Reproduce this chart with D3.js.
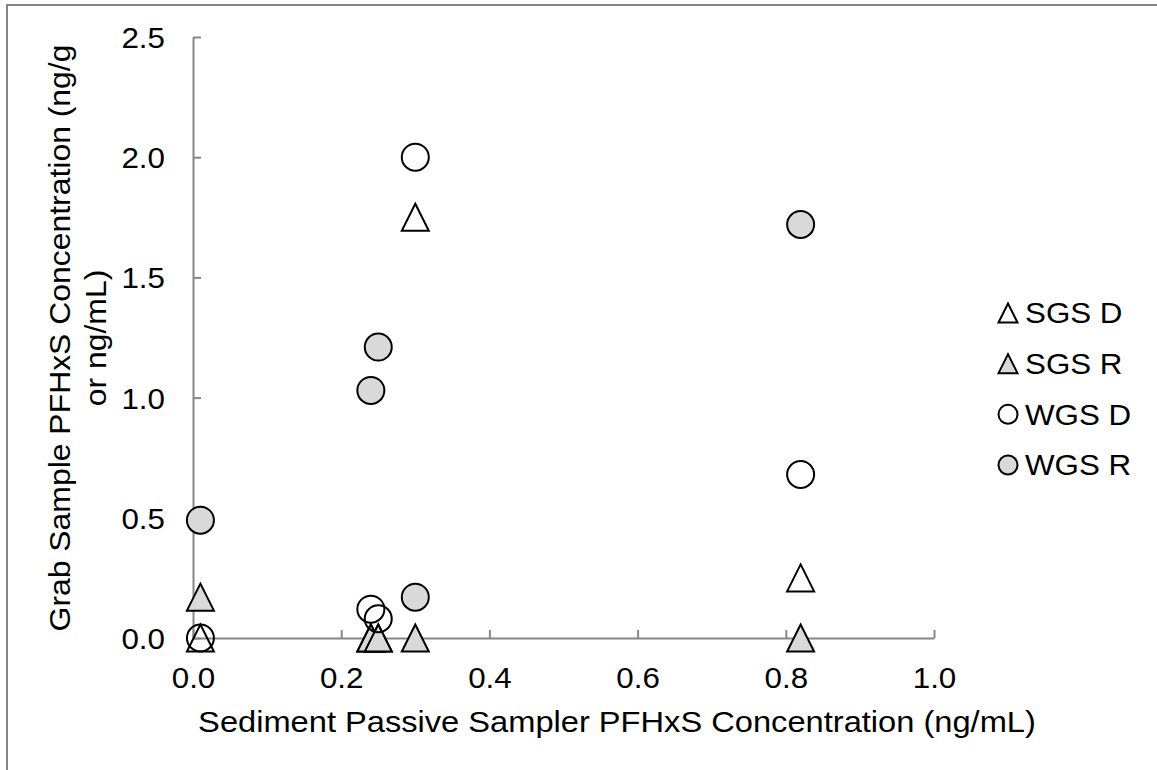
<!DOCTYPE html>
<html>
<head>
<meta charset="utf-8">
<script src="https://cdn.jsdelivr.net/npm/d3@7"></script>
<style>
  html, body { margin: 0; padding: 0; background: #fff; }
  svg text { font-family: "Liberation Sans", Arial, sans-serif; fill: #000; }
</style>
</head>
<body>
<svg id="chart" width="1157" height="770"></svg>
<script>
// ---- data ----
const xTicks = [0.0, 0.2, 0.4, 0.6, 0.8, 1.0];
const yTicks = [0.0, 0.5, 1.0, 1.5, 2.0, 2.5];
const seriesNames = ["SGS D", "SGS R", "WGS D", "WGS R"];
const sgsDx = [0.01, 0.24, 0.25, 0.30, 0.82];
const sgsDy = [0.00, 0.00, 0.00, 1.75, 0.25];
const sgsRx = [0.01, 0.24, 0.25, 0.30, 0.82];
const sgsRy = [0.17, 0.00, 0.00, 0.00, 0.00];
const wgsDx = [0.01, 0.24, 0.25, 0.30, 0.82];
const wgsDy = [0.00, 0.12, 0.08, 2.00, 0.68];
const wgsRx = [0.01, 0.24, 0.25, 0.30, 0.82];
const wgsRy = [0.49, 1.03, 1.21, 0.17, 1.72];
const xTitle = "Sediment Passive Sampler PFHxS Concentration (ng/mL)";
const yTitleLines = ["Grab Sample PFHxS Concentration (ng/g", "or ng/mL)"];

const series = [
  {name: seriesNames[0], xs: sgsDx, ys: sgsDy, shape: "triangle", fill: "none"},
  {name: seriesNames[1], xs: sgsRx, ys: sgsRy, shape: "triangle", fill: "#d9d9d9"},
  {name: seriesNames[2], xs: wgsDx, ys: wgsDy, shape: "circle", fill: "none"},
  {name: seriesNames[3], xs: wgsRx, ys: wgsRy, shape: "circle", fill: "#d9d9d9"}
];

const svg = d3.select("#chart");
const axisColor = "#868686";
const fontSize = 29;

function stretchText(sel, k) {
  k = k || 1.08;
  sel.each(function() {
    const w = this.getComputedTextLength();
    this.setAttribute("textLength", w * k);
    this.setAttribute("lengthAdjust", "spacingAndGlyphs");
  });
}

// outer frame (cropped at right/bottom)
svg.append("rect").attr("x", 7).attr("y", 5).attr("width", 1300).attr("height", 900)
  .attr("fill", "none").attr("stroke", axisColor).attr("stroke-width", 2);

const x = d3.scaleLinear().domain([0, 1]).range([193, 934]);
const y = d3.scaleLinear().domain([0, 2.5]).range([638, 37]);

// axes
const xAxis = d3.axisBottom(x).tickValues(xTicks).tickSizeInner(-8).tickSizeOuter(0).tickFormat(d3.format(".1f"));
const gx = svg.append("g").attr("transform", `translate(0,${y(0)})`).call(xAxis);
gx.select(".domain").attr("stroke", axisColor).attr("stroke-width", 2);
gx.selectAll(".tick line").attr("stroke", axisColor).attr("stroke-width", 2);
gx.selectAll(".tick text").attr("y", 50).attr("dy", 0).attr("font-size", fontSize)
  .attr("font-family", "Liberation Sans, Arial, sans-serif").attr("fill", "#000").call(stretchText);

const yAxis = d3.axisLeft(y).tickValues(yTicks).tickSizeInner(-8).tickSizeOuter(0).tickFormat(d3.format(".1f"));
const gy = svg.append("g").attr("transform", `translate(${x(0)},0)`).call(yAxis);
gy.select(".domain").attr("stroke", axisColor).attr("stroke-width", 2);
gy.selectAll(".tick line").attr("stroke", axisColor).attr("stroke-width", 2);
gy.selectAll(".tick text").attr("x", -28).attr("dy", "0.36em").attr("font-size", fontSize)
  .attr("font-family", "Liberation Sans, Arial, sans-serif").attr("fill", "#000").call(stretchText);

// axis titles
svg.append("text").attr("x", 617).attr("y", 732).attr("text-anchor", "middle")
  .attr("font-size", fontSize).text(xTitle).call(stretchText, 1.125);

const yt = svg.append("g").attr("transform", "translate(0,338) rotate(-90)");
yt.selectAll("text").data(yTitleLines).join("text")
  .attr("x", 0).attr("y", (d, i) => 70 + i * 36)
  .attr("text-anchor", "middle").attr("font-size", fontSize).text(d => d).call(stretchText, 1.1);

// markers
function triPath(s) {
  const h = s / 2;
  return `M0,${-h}L${h},${h}L${-h},${h}Z`;
}
function drawMarker(g, shape, fill, size) {
  if (shape === "circle") {
    g.append("circle").attr("r", size / 2).attr("fill", fill)
      .attr("stroke", "#000").attr("stroke-width", 2);
  } else {
    g.append("path").attr("d", triPath(size)).attr("fill", fill)
      .attr("stroke", "#000").attr("stroke-width", 2).attr("stroke-linejoin", "miter");
  }
}

series.forEach(s => {
  const pts = s.xs.map((v, i) => [v, s.ys[i]]);
  const g = svg.append("g");
  pts.forEach(p => {
    const m = g.append("g").attr("transform", `translate(${x(p[0])},${y(p[1])})`);
    drawMarker(m, s.shape, s.fill, 27);
  });
});

// legend
const legendY = d3.scalePoint().domain(seriesNames).range([313, 465]);
series.forEach(s => {
  const m = svg.append("g").attr("transform", `translate(1008,${legendY(s.name)})`);
  drawMarker(m, s.shape, s.fill, 19);
  svg.append("text").attr("x", 1025).attr("y", legendY(s.name)).attr("dy", "0.36em")
    .attr("font-size", fontSize).text(s.name).call(stretchText);
});
</script>
</body>
</html>
